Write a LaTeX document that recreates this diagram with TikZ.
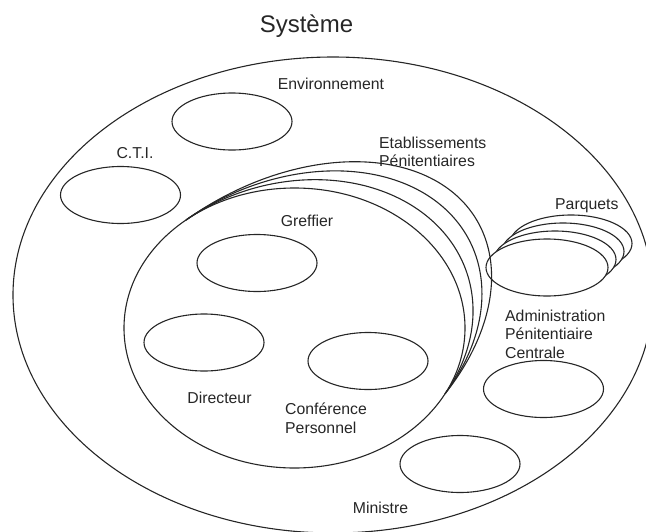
\documentclass[tikz,border=0pt]{standalone}
\usepackage{fontspec}
\setmainfont{Liberation Sans}
\usetikzlibrary{shapes.geometric}
% signed distance of a point of the Etablissements ellipse from its chord
\newcommand\estdist{((294.5+170.5*cos(\x)-186.04)*0.5571-(328+140*sin(\x)-219.98)*0.8304)}
\begin{document}
\begin{tikzpicture}[x=1pt,y=-1pt,
  line/.style={draw=black!85, line width=1.1pt},
  blob/.style={ellipse, line, minimum width=120pt, minimum height=57pt, inner sep=0pt},
  lbl/.style={font=\fontsize{15.8}{18.5}\selectfont, text=black!85, inner sep=0pt},
]
\useasboundingbox (0,0) rectangle (646,531);

% the whole system
\node[ellipse, line, minimum width=640pt, minimum height=476pt, inner sep=0pt] (systeme) at (333,295) {};

% Parquets: a stack of plates, drawn from back to front
\foreach \k in {3,2,1}
  \node[blob, fill=white, minimum width=122pt] (parquet\k) at ({547+8*\k},{267.5-8*\k}) {};
\node[blob, fill=white, minimum width=122pt] (parquets) at (547,267.5) {};

% Etablissements Penitentiaires: front ellipse and the ones behind it
\node[ellipse, line, minimum width=341pt, minimum height=280pt, inner sep=0pt] (etab) at (294.5,328) {};
\foreach \k in {1,2,3}
  \draw[line] plot[domain=-129.5:28, samples=120, smooth]
    ({294.5+170.5*cos(\x)+\k*0.115*\estdist}, {328+140*sin(\x)-\k*0.093*\estdist});

% the actors
\node[blob] (env) at (232,121.5) {};
\node[blob] (cti) at (120.5,195) {};
\node[blob] (greffier) at (257,263) {};
\node[blob] (directeur) at (204,342.5) {};
\node[blob] (conference) at (368,361) {};
\node[blob] (admin) at (543.5,389) {};
\node[blob] (ministre) at (460,464) {};

% labels (multi-line labels are placed by the baseline of their last line)
\node[lbl, font=\fontsize{24}{28}\selectfont, anchor=base] (titre) at (306.5,32) {Système};
\node[lbl, anchor=base] (envlbl) at (331,89) {Environnement};
\node[lbl, anchor=base] (ctilbl) at (135,158) {C.T.I.};
\node[lbl, anchor=base west, align=left] (etablbl) at (379,166.5) {Etablissements\\Pénitentiaires};
\node[lbl, anchor=base] (greffierlbl) at (307,226) {Greffier};
\node[lbl, anchor=base west] (parquetslbl) at (555,209) {Parquets};
\node[lbl, anchor=base west, align=left] (adminlbl) at (505,358) {Administration\\Pénitentiaire\\Centrale};
\node[lbl, anchor=base] (directeurlbl) at (219.5,403) {Directeur};
\node[lbl, anchor=base west, align=left] (conferencelbl) at (285,433) {Conférence\\Personnel};
\node[lbl, anchor=base] (ministrelbl) at (380.5,513) {Ministre};
\end{tikzpicture}
\end{document}
